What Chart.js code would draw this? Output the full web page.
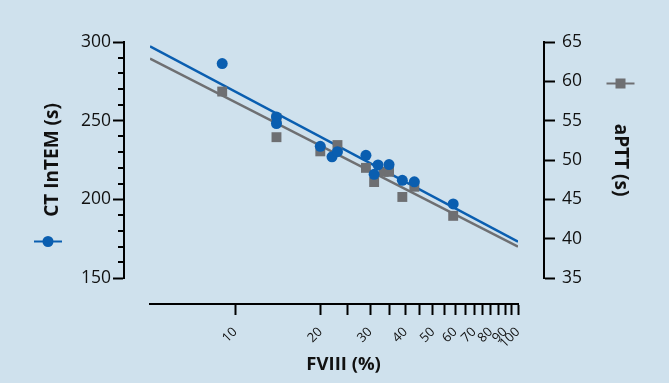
<!DOCTYPE html>
<html>
<head>
<meta charset="utf-8">
<script src="https://cdn.jsdelivr.net/npm/chart.js@4.4.0/dist/chart.umd.min.js"></script>
<style>
  html, body { margin: 0; padding: 0; background: #cfe1ed; }
  #wrap { width: 669px; height: 383px; }
</style>
</head>
<body>
<div id="wrap"><canvas id="fviii-chart" width="669" height="383"></canvas></div>
<script>
// CT InTEM (left axis) and aPTT (right axis) against FVIII (log axis)
const ctFviii = [9, 14, 14, 20, 22, 23, 29, 32, 31, 35, 39, 43, 59];
const ctIntem = [286.3, 252.4, 248.2, 233.7, 227.0, 230.3, 228.0, 221.9, 215.9, 222.1, 212.1, 211.1, 197.1];
const apttFviii = [9, 14, 14, 20, 23, 29, 31, 33.5, 35, 39, 43, 59];
const aptt = [58.7, 55.3, 52.9, 51.1, 51.9, 49.0, 47.2, 48.5, 48.5, 45.3, 46.6, 42.9];

// regression lines, taken at both ends of the x range
const fitFviii = [5, 100];
const ctFit = [297.3, 173.1];
const apttFit = [62.9, 39.0];

const xTicks = [10, 20, 25, 30, 35, 40, 45, 50, 55, 60, 65, 70, 75, 80, 85, 90, 95, 100];
const xLabels = [10, 20, 30, 40, 50, 60, 70, 80, 90, 100];
const ctMinorTicks = [160, 170, 180, 190, 210, 220, 230, 240, 260, 270, 280, 290];

const BLUE = '#0a5eb0';
const GREY = '#6e6f72';

function toPoints(xs, ys) {
    return xs.map(function(x, i) { return { x: x, y: ys[i] }; });
}

// empty scale used only to push the real axis away from the plot area
function spacer(position, size) {
    return {
        type: 'linear',
        position: position,
        weight: 0,
        display: true,
        grid: { display: false },
        border: { display: false },
        ticks: { display: false },
        afterFit: function(s) {
            if (s.isHorizontal()) s.height = size; else s.width = size;
        }
    };
}

// short unlabeled ticks on the CT axis
const minorTicks = {
    id: 'minorTicks',
    afterDraw: function(chart) {
        const s = chart.scales.y;
        const ctx = chart.ctx;
        ctx.save();
        ctx.strokeStyle = '#000';
        ctx.lineWidth = 2;
        ctx.beginPath();
        ctMinorTicks.forEach(function(v) {
            const py = Math.round(s.getPixelForValue(v));
            ctx.moveTo(s.right - 6, py);
            ctx.lineTo(s.right, py);
        });
        ctx.stroke();
        ctx.restore();
    }
};

// little legend marks next to the axis titles
const legendMarks = {
    id: 'legendMarks',
    afterDraw: function(chart) {
        const ctx = chart.ctx;
        const area = chart.chartArea;
        const yl = chart.scales.y;
        const yr = chart.scales.y2;
        ctx.save();
        ctx.lineWidth = 2;

        let cx = yl.left + 48, cy = area.bottom - 36.5;
        ctx.strokeStyle = BLUE;
        ctx.fillStyle = BLUE;
        ctx.beginPath();
        ctx.moveTo(cx - 14, cy);
        ctx.lineTo(cx + 14, cy);
        ctx.stroke();
        ctx.beginPath();
        ctx.arc(cx, cy, 5.5, 0, Math.PI * 2);
        ctx.fill();

        cx = yr.right - 48.5; cy = area.top + 41.5;
        ctx.strokeStyle = GREY;
        ctx.fillStyle = GREY;
        ctx.beginPath();
        ctx.moveTo(cx - 14, cy);
        ctx.lineTo(cx + 14, cy);
        ctx.stroke();
        ctx.fillRect(cx - 5, cy - 5, 10, 10);
        ctx.restore();
    }
};

document.addEventListener("DOMContentLoaded", function() {
    Chart.defaults.color = '#111';
    Chart.defaults.font.family = "'Open Sans', 'Noto Sans', sans-serif";

    const tickGrid = {
        display: true,
        drawOnChartArea: false,
        drawTicks: true,
        tickLength: 11,
        tickWidth: 2,
        color: '#000',
        tickColor: '#000'
    };

    new Chart(document.getElementById("fviii-chart"), {
        type: 'scatter',
        data: {
            datasets: [
                {
                    label: 'CT InTEM (s)',
                    data: toPoints(ctFviii, ctIntem),
                    yAxisID: 'y',
                    backgroundColor: BLUE,
                    borderWidth: 0,
                    pointRadius: 5.5,
                    pointStyle: 'circle',
                    order: 0
                },
                {
                    label: 'aPTT (s)',
                    data: toPoints(apttFviii, aptt),
                    yAxisID: 'y2',
                    backgroundColor: GREY,
                    borderWidth: 0,
                    pointRadius: 7,
                    pointStyle: 'rect',
                    order: 1
                },
                {
                    label: 'CT fit',
                    data: toPoints(fitFviii, ctFit),
                    yAxisID: 'y',
                    showLine: true,
                    borderColor: BLUE,
                    borderWidth: 2.5,
                    pointRadius: 0,
                    order: 2
                },
                {
                    label: 'aPTT fit',
                    data: toPoints(fitFviii, apttFit),
                    yAxisID: 'y2',
                    showLine: true,
                    borderColor: GREY,
                    borderWidth: 2.5,
                    pointRadius: 0,
                    order: 3
                }
            ]
        },
        options: {
            responsive: false,
            animation: false,
            layout: { padding: { top: 42, left: 0, right: 0, bottom: 0 } },
            plugins: {
                legend: { display: false },
                tooltip: { enabled: false }
            },
            scales: {
                x: {
                    type: 'logarithmic',
                    position: 'bottom',
                    weight: 1,
                    min: 5,
                    max: 100,
                    afterBuildTicks: function(s) {
                        s.ticks = xTicks.map(function(v) { return { value: v }; });
                    },
                    afterFit: function(s) { s.height = 79; },
                    grid: tickGrid,
                    border: { display: true, color: '#000', width: 2 },
                    ticks: {
                        autoSkip: false,
                        minRotation: 45,
                        maxRotation: 45,
                        padding: 13,
                        font: { size: 13, lineHeight: 0.4 },
                        callback: function(v) {
                            return xLabels.indexOf(v) >= 0 ? String(v) : '';
                        }
                    },
                    title: {
                        display: true,
                        text: '    FVIII (%)',
                        font: { size: 18.5, weight: 'bold' },
                        padding: { top: 0, bottom: 7 }
                    }
                },
                xGap: spacer('bottom', 26),
                y: {
                    type: 'linear',
                    position: 'left',
                    weight: 1,
                    min: 150,
                    max: 300,
                    afterFit: function(s) { s.width = 124; },
                    grid: tickGrid,
                    border: { display: true, color: '#000', width: 2 },
                    ticks: {
                        stepSize: 50,
                        autoSkip: false,
                        padding: 2,
                        font: { size: 17.5 }
                    },
                    title: {
                        display: true,
                        text: 'CT InTEM (s)',
                        font: { size: 19, weight: 'bold' },
                        padding: { top: 41, bottom: 0 }
                    }
                },
                yGap: spacer('left', 26),
                y2: {
                    type: 'linear',
                    position: 'right',
                    weight: 1,
                    min: 35,
                    max: 65,
                    afterFit: function(s) { s.width = 125; },
                    grid: tickGrid,
                    border: { display: true, color: '#000', width: 2 },
                    ticks: {
                        stepSize: 5,
                        autoSkip: false,
                        padding: 7,
                        font: { size: 17.5 }
                    },
                    title: {
                        display: true,
                        text: 'aPTT (s)',
                        font: { size: 19, weight: 'bold' },
                        padding: { top: 37.5, bottom: 0 }
                    }
                },
                y2Gap: spacer('right', 26)
            }
        },
        plugins: [minorTicks, legendMarks]
    });
});
</script>
</body>
</html>
